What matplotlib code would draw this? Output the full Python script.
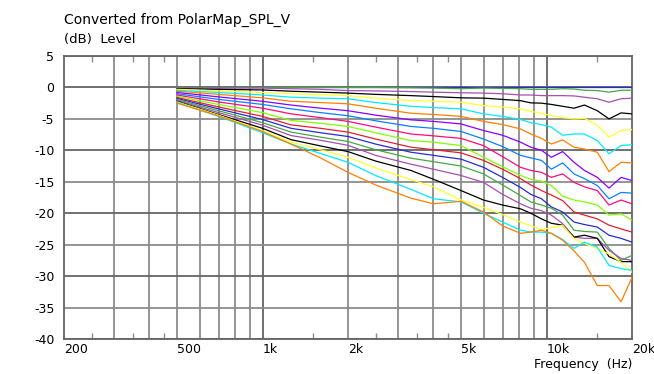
import matplotlib
matplotlib.use("Agg")
import matplotlib.pyplot as plt
from matplotlib.ticker import FixedLocator, NullFormatter

# ---------------- data ----------------
freqs = [500, 700, 1000, 1260, 1600, 2000, 2500, 3330, 4000, 5000, 6000, 7000,
         8100, 8800, 9600, 10400, 11400, 12500, 13600, 15100, 16600, 18300, 20000]

l00 = [0, 0, 0, 0, 0, 0, 0, 0, 0, 0, 0, 0, 0, 0, 0, 0, 0, 0, 0, 0, 0, 0, 0]
l01 = [0, 0, 0, 0, 0, 0, 0, -0.05, -0.1, -0.2, -0.1, -0.15, -0.2, -0.3, -0.3, -0.3,
       -0.2, -0.25, -0.45, -0.5, -0.75, -0.45, -0.45]
l02 = [-0.1, -0.1, -0.1, -0.2, -0.3, -0.5, -0.55, -0.65, -0.75, -0.85, -0.9, -1.0,
       -1.2, -1.2, -1.3, -1.3, -1.3, -1.35, -1.55, -1.8, -2.35, -1.8, -1.7]
l03 = [-0.2, -0.3, -0.4, -0.6, -0.75, -0.9, -1.1, -1.3, -1.45, -1.65, -1.7, -1.9,
       -2.1, -2.45, -2.5, -2.7, -3.0, -3.3, -2.8, -3.7, -5.0, -4.05, -4.2]
l04 = [-0.3, -0.55, -0.8, -1.0, -1.15, -1.3, -1.7, -2.1, -2.2, -2.35, -2.9, -3.1,
       -3.4, -3.8, -4.1, -4.5, -4.8, -5.0, -4.9, -6.05, -7.9, -6.85, -6.7]
l05 = [-0.45, -0.8, -1.2, -1.55, -1.7, -1.8, -2.4, -3.0, -3.2, -3.4, -4.2, -4.6,
       -5.1, -5.6, -5.9, -6.3, -7.6, -7.4, -7.4, -8.45, -10.55, -9.25, -9.1]
l06 = [-0.6, -1.1, -1.65, -2.2, -2.4, -2.6, -3.3, -4.1, -4.3, -4.6, -5.4, -5.9,
       -6.6, -7.4, -8.1, -9.0, -8.35, -9.5, -9.8, -10.3, -13.4, -11.9, -12.0]
l07 = [-0.8, -1.5, -2.2, -2.8, -3.3, -3.7, -4.4, -5.15, -5.4, -5.8, -6.85, -7.6,
       -8.7, -9.5, -10.0, -11.1, -10.2, -11.9, -13.2, -14.3, -16.0, -14.3, -14.8]
l08 = [-1.0, -1.9, -2.7, -3.4, -4.0, -4.5, -5.3, -6.2, -6.5, -7.0, -8.2, -9.4,
       -10.8, -11.2, -11.6, -13.0, -12.0, -13.75, -14.5, -15.6, -17.7, -16.7, -16.8]
l09 = [-1.2, -2.3, -3.3, -4.2, -4.8, -5.4, -6.3, -7.4, -7.7, -8.1, -9.25, -11.0,
       -12.7, -13.2, -13.5, -14.3, -13.75, -15.1, -15.8, -16.4, -18.7, -17.9, -18.5]
l10 = [-1.4, -2.7, -4.0, -5.25, -5.7, -6.2, -7.2, -8.45, -8.7, -9.25, -11.1, -12.6,
       -14.0, -14.6, -14.9, -15.6, -17.3, -17.9, -18.2, -18.7, -20.3, -20.1, -21.1]
l11 = [-1.6, -3.1, -4.6, -5.95, -6.5, -7.1, -8.2, -9.5, -9.9, -10.4, -11.6, -13.0,
       -14.5, -15.5, -16.4, -17.1, -18.0, -19.8, -20.3, -20.9, -21.9, -22.5, -23.0]
l12 = [-1.75, -3.4, -5.1, -6.5, -7.2, -7.8, -9.0, -10.3, -10.8, -11.4, -12.7, -14.3,
       -15.9, -17.0, -17.7, -19.0, -19.8, -21.4, -21.8, -22.2, -23.5, -24.0, -24.6]
l13 = [-1.9, -3.7, -5.6, -7.1, -7.9, -8.6, -9.9, -11.25, -11.8, -12.5, -13.75, -15.5,
       -17.2, -18.2, -18.7, -19.2, -20.3, -22.7, -22.9, -23.0, -25.6, -27.5, -26.7]
l14 = [-2.05, -4.0, -6.0, -7.65, -8.4, -9.2, -10.8, -12.2, -13.0, -14.0, -15.1, -17.0,
       -18.5, -19.2, -19.6, -20.3, -21.65, -23.8, -24.0, -24.0, -25.9, -27.2, -27.5]
l15 = [-2.2, -4.3, -6.5, -8.3, -9.3, -10.2, -11.7, -13.2, -14.6, -16.4, -17.9, -18.7,
       -19.3, -20.0, -20.9, -21.6, -21.9, -23.8, -23.5, -24.0, -26.9, -27.7, -27.7]
l16 = [-2.3, -4.4, -6.9, -8.7, -9.9, -11.1, -12.8, -14.65, -15.8, -17.9, -19.1, -20.2,
       -21.4, -22.0, -22.6, -22.3, -21.9, -24.0, -24.8, -25.6, -26.5, -27.8, -29.4]
l17 = [-2.4, -4.6, -7.2, -9.0, -10.5, -11.9, -14.0, -16.2, -17.7, -18.2, -20.0, -21.4,
       -22.7, -23.0, -23.0, -23.2, -24.2, -25.6, -24.6, -25.4, -28.3, -28.8, -29.1]
l18 = [-2.5, -4.5, -7.0, -9.0, -11.2, -13.5, -15.5, -17.6, -18.5, -18.1, -19.8, -22.0,
       -23.2, -23.0, -22.7, -23.2, -24.3, -26.0, -27.8, -31.5, -31.5, -34.1, -30.2]

curves = [l00, l01, l02, l03, l04, l05, l06, l07, l08, l09,
          l10, l11, l12, l13, l14, l15, l16, l17, l18]

colors = ['#2a2ad0', '#45a845', '#a650b0', '#000000', '#ffff30', '#00ecff',
          '#ff8000', '#8a00ff', '#0a80ff', '#ff0a80', '#80ff00', '#e02030']

xtick_vals = [200, 500, 1000, 2000, 5000, 10000, 20000]
xtick_labels = ['200', '500', '1k', '2k', '5k', '10k', '20k']
ytick_vals = [5, 0, -5, -10, -15, -20, -25, -30, -35, -40]
minor_ticks = [250, 350, 450, 1500, 2500, 3500, 4500, 15000]
grid_light = [300, 400, 500, 600, 700, 800, 900, 2000, 3000, 4000, 5000, 6000,
              7000, 8000, 9000]
grid_dark = [1000, 10000]

# ---------------- figure ----------------
W, H = 654, 374
fig = plt.figure(figsize=(W / 100, H / 100), dpi=100)
L, R, T, B = 64, 632, 56, 339
ax = fig.add_axes([L / W, 1 - B / H, (R - L) / W, (B - T) / H])
ax.set_xscale('log')
ax.set_xlim(200, 20000)
ax.set_ylim(-40, 5)

light = '#8c8c8c'
dark = '#646464'
for f in grid_light:
    ax.axvline(f, color=light, lw=1.3, zorder=1)
for f in grid_dark:
    ax.axvline(f, color=dark, lw=1.3, zorder=1)
for v in ytick_vals:
    ax.axhline(v, color=dark if v % 10 == 0 else light, lw=1.3, zorder=1)

for i, c in enumerate(curves):
    ax.plot(freqs, c, color=colors[i % len(colors)], lw=0.9, zorder=3)

for s in ax.spines.values():
    s.set_color(dark)
    s.set_linewidth(1.3)

ax.xaxis.set_major_locator(FixedLocator(xtick_vals))
ax.set_xticklabels(xtick_labels)
ax.xaxis.set_minor_locator(FixedLocator(minor_ticks))
ax.xaxis.set_minor_formatter(NullFormatter())
ax.tick_params(axis='x', which='major', length=0, pad=3, labelsize=9)
ax.tick_params(axis='x', which='minor', direction='in', length=4, width=1,
               color=light, top=True, bottom=True)
for lbl in ax.get_xticklabels():
    lbl.set_horizontalalignment('left')
ax.set_yticks(ytick_vals)
ax.set_yticklabels([str(v) for v in ytick_vals])
ax.tick_params(axis='y', length=0, pad=7, labelsize=9)

fig.text(64 / W, 1 - 20 / H, 'Converted from PolarMap_SPL_V', fontsize=10,
         va='center', ha='left')
fig.text(64 / W, 1 - 40 / H, '(dB)  Level', fontsize=9.5, va='center', ha='left')
fig.text(632 / W, 1 - 364.5 / H, 'Frequency  (Hz)', fontsize=9, va='center',
         ha='right')

fig.savefig('out.png', dpi=100)
